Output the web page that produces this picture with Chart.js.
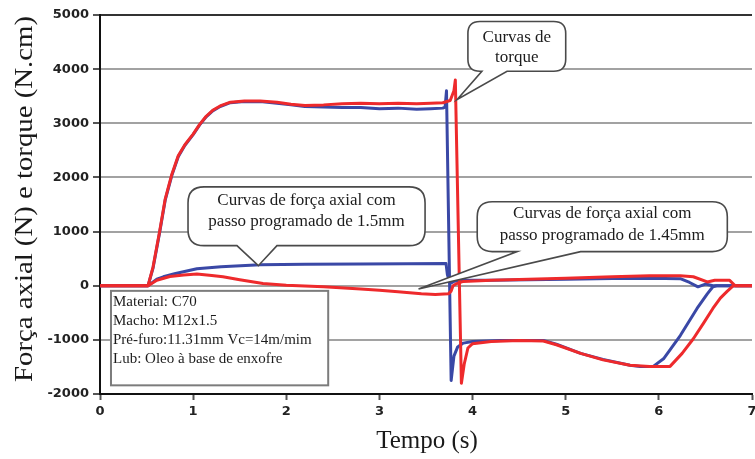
<!DOCTYPE html>
<html>
<head>
<meta charset="utf-8">
<script src="https://cdn.jsdelivr.net/npm/chart.js@4.4.0/dist/chart.umd.min.js"></script>
<style>
  html, body { margin: 0; padding: 0; background: #fff; overflow: hidden; }
  #wrap { width: 755px; height: 459px; position: relative; overflow: hidden; }
</style>
</head>
<body>
<div id="wrap"><canvas id="c" width="768" height="459"></canvas></div>
<script>
// Axis ticks
const timeTicks = [0, 1, 2, 3, 4, 5, 6, 7];
const valueTicks = [-2000, -1000, 0, 1000, 2000, 3000, 4000, 5000];

// Torque, tap with 1.45 mm programmed pitch (red)
const torqueRedT = [0, 0.516, 0.57, 0.64, 0.70, 0.77, 0.84, 0.91, 1.0, 1.07, 1.14, 1.21, 1.29, 1.4, 1.55, 1.72, 1.9, 2.05, 2.2, 2.4, 2.6, 2.8, 3.0, 3.2, 3.4, 3.55, 3.68, 3.76, 3.80, 3.815, 3.88, 3.91, 3.95, 4.0, 4.2, 4.5, 4.76, 4.9, 5.16, 5.4, 5.69, 5.9, 6.12, 6.25, 6.37, 6.48, 6.58, 6.66, 6.73, 6.8, 7.0];
const torqueRedV = [0, 0, 350, 1000, 1600, 2050, 2400, 2600, 2800, 2980, 3130, 3240, 3320, 3390, 3410, 3410, 3390, 3350, 3330, 3340, 3360, 3370, 3360, 3370, 3360, 3370, 3380, 3420, 3600, 3800, -1800, -1450, -1150, -1070, -1030, -1010, -1020, -1090, -1250, -1370, -1470, -1490, -1490, -1250, -980, -690, -420, -230, -110, 0, 0];

// Axial force, 1.45 mm programmed pitch (red)
const axialRedT = [0, 0.516, 0.61, 0.75, 0.9, 1.04, 1.2, 1.32, 1.5, 1.75, 2.0, 2.4, 2.8, 3.0, 3.2, 3.45, 3.6, 3.74, 3.77, 3.79, 3.83, 3.9, 4.2, 4.6, 5.0, 5.5, 5.9, 6.23, 6.37, 6.52, 6.6, 6.76, 6.82, 7.0];
const axialRedV = [0, 0, 100, 170, 200, 215, 190, 165, 110, 40, 10, -20, -60, -85, -110, -150, -160, -150, -100, 0, 40, 80, 100, 120, 140, 165, 185, 185, 165, 70, 100, 100, 0, 0];

// Torque, 1.5 mm programmed pitch (blue)
const torqueBlueT = [0, 0.516, 0.57, 0.64, 0.70, 0.77, 0.84, 0.91, 1.0, 1.07, 1.14, 1.21, 1.29, 1.4, 1.55, 1.72, 1.9, 2.05, 2.2, 2.4, 2.6, 2.8, 3.0, 3.2, 3.4, 3.55, 3.68, 3.705, 3.72, 3.77, 3.80, 3.84, 3.9, 4.0, 4.3, 4.76, 4.9, 5.16, 5.4, 5.69, 5.8, 5.94, 6.05, 6.23, 6.41, 6.52, 6.58, 6.62, 7.0];
const torqueBlueV = [0, 0, 330, 980, 1580, 2030, 2380, 2590, 2790, 2970, 3120, 3230, 3310, 3380, 3400, 3400, 3370, 3340, 3310, 3300, 3290, 3290, 3270, 3280, 3260, 3270, 3280, 3300, 3600, -1750, -1300, -1130, -1060, -1030, -1010, -1010, -1080, -1250, -1360, -1470, -1490, -1490, -1350, -920, -420, -150, -20, 0, 0];

// Axial force, 1.5 mm programmed pitch (blue)
const axialBlueT = [0, 0.516, 0.61, 0.68, 0.8, 1.04, 1.3, 1.72, 2.2, 2.8, 3.3, 3.715, 3.73, 3.76, 3.80, 3.9, 4.2, 4.6, 5.0, 5.5, 5.9, 6.23, 6.33, 6.42, 6.5, 6.58, 7.0];
const axialBlueV = [0, 0, 120, 165, 220, 313, 350, 385, 395, 400, 405, 410, 200, 40, 80, 100, 100, 110, 120, 135, 140, 130, 60, -20, 30, 0, 0];

const RED = '#ee2a2c';
const BLUE = '#3a48a6';

function pts(ts, vs) { return ts.map((t, i) => ({ x: t, y: vs[i] })); }

function series(label, ts, vs, color) {
  return {
    label, data: pts(ts, vs), borderColor: color, backgroundColor: color,
    borderWidth: 3, pointRadius: 0, tension: 0, fill: false,
    borderJoinStyle: 'round', borderCapStyle: 'round'
  };
}

// Callout bubbles: box edges and pointer in data units (time, value)
const callouts = [
  { box: [3.95, 5.0, 4880, 3960], base: [4.10, 4.37], tip: [3.835, 3440], r: 12,
    lines: ['Curvas de', 'torque'], first: 16, step: 20 },
  { box: [0.945, 3.49, 1825, 740], base: [1.47, 1.90], tip: [1.70, 370], r: 16,
    lines: ['Curvas de força axial com', 'passo programado de 1.5mm'], first: 14, step: 21 },
  { box: [4.05, 6.735, 1550, 630], base: [4.48, 5.16], tip: [3.42, -60], r: 15,
    lines: ['Curvas de força axial com', 'passo programado de 1.45mm'], first: 12, step: 22 }
];

const infoBox = { box: [0.118, 2.45, -95, -1840],
  lines: ['Material: C70', 'Macho: M12x1.5', 'Pré-furo:11.31mm Vc=14m/mim', 'Lub: Oleo à base de enxofre'] };

const annotations = {
  id: 'annotations',
  afterDatasetsDraw(chart) {
    const ctx = chart.ctx, xs = chart.scales.x, ys = chart.scales.y;
    const px = t => xs.getPixelForValue(t), py = v => ys.getPixelForValue(v);
    ctx.save();
    callouts.forEach(c => {
      const l = px(c.box[0]), r = px(c.box[1]), t = py(c.box[2]), b = py(c.box[3]);
      const rad = c.r;
      const b0 = px(c.base[0]), b1 = px(c.base[1]);
      const tx = px(c.tip[0]), ty = py(c.tip[1]);
      ctx.beginPath();
      ctx.moveTo(l + rad, t);
      ctx.lineTo(r - rad, t);
      ctx.quadraticCurveTo(r, t, r, t + rad);
      ctx.lineTo(r, b - rad);
      ctx.quadraticCurveTo(r, b, r - rad, b);
      ctx.lineTo(b1, b);
      ctx.lineTo(tx, ty);
      ctx.lineTo(b0, b);
      ctx.lineTo(l + rad, b);
      ctx.quadraticCurveTo(l, b, l, b - rad);
      ctx.lineTo(l, t + rad);
      ctx.quadraticCurveTo(l, t, l + rad, t);
      ctx.closePath();
      ctx.fillStyle = '#fff';
      ctx.fill();
      ctx.lineWidth = 1.6;
      ctx.strokeStyle = '#4a4a4a';
      ctx.stroke();
      ctx.fillStyle = '#1c1c1c';
      ctx.font = '17px "Liberation Serif"';
      ctx.textAlign = 'center';
      ctx.textBaseline = 'middle';
      c.lines.forEach((s, i) => ctx.fillText(s, (l + r) / 2, t + c.first + i * c.step));
    });

    // Test conditions box
    const l = px(infoBox.box[0]), r = px(infoBox.box[1]), t = py(infoBox.box[2]), b = py(infoBox.box[3]);
    ctx.fillStyle = '#fff';
    ctx.fillRect(l, t, r - l, b - t);
    ctx.lineWidth = 2;
    ctx.strokeStyle = '#7c7c7c';
    ctx.strokeRect(l, t, r - l, b - t);
    ctx.fillStyle = '#1c1c1c';
    ctx.font = '15px "Liberation Serif"';
    ctx.textAlign = 'left';
    ctx.textBaseline = 'middle';
    infoBox.lines.forEach((s, i) => ctx.fillText(s, l + 2, t + 11 + i * 19));
    ctx.restore();
  },
  afterDraw(chart) {
    const ctx = chart.ctx;
    ctx.save();
    ctx.fillStyle = '#1a1a1a';
    ctx.textAlign = 'center';
    ctx.textBaseline = 'middle';
    // Vertical axis title
    ctx.font = '25px "Liberation Serif"';
    const yt = 'Força axial (N) e torque (N.cm)';
    const w = ctx.measureText(yt).width;
    ctx.translate(25, 199);
    ctx.rotate(-Math.PI / 2);
    ctx.scale(366 / w, 1);
    ctx.fillText(yt, 0, 0);
    ctx.restore();
    ctx.save();
    ctx.fillStyle = '#1a1a1a';
    ctx.textAlign = 'center';
    ctx.textBaseline = 'middle';
    ctx.font = '25px "Liberation Serif"';
    ctx.fillText('Tempo (s)', 427, 441);
    ctx.restore();
  }
};

new Chart(document.getElementById('c'), {
  type: 'line',
  data: {
    datasets: [
      series('Torque 1.45mm', torqueRedT, torqueRedV, RED),
      series('Força axial 1.45mm', axialRedT, axialRedV, RED),
      series('Torque 1.5mm', torqueBlueT, torqueBlueV, BLUE),
      series('Força axial 1.5mm', axialBlueT, axialBlueV, BLUE)
    ]
  },
  options: {
    responsive: false,
    animation: false,
    layout: { padding: { top: 15, right: 16, left: 0, bottom: 0 } },
    plugins: { legend: { display: false }, tooltip: { enabled: false } },
    scales: {
      x: {
        type: 'linear', min: 0, max: 7,
        afterBuildTicks: s => { s.ticks = timeTicks.map(v => ({ value: v })); },
        afterFit: s => { s.height = 65; },
        ticks: { font: { family: 'DejaVu Sans', size: 13, weight: 'bold' }, color: '#222', padding: 4, maxRotation: 0,
                 callback: v => String(v) },
        grid: { drawOnChartArea: false, drawTicks: true, tickLength: 6, tickColor: '#555', tickWidth: 2 },
        border: { color: '#111', width: 2 }
      },
      y: {
        type: 'linear', min: -2000, max: 5000,
        afterBuildTicks: s => { s.ticks = valueTicks.map(v => ({ value: v })); },
        afterFit: s => { s.width = 100; },
        ticks: { font: { family: 'DejaVu Sans', size: 13, weight: 'bold' }, color: '#222', padding: 4,
                 callback: v => String(v) },
        grid: {
          color: c => (c.tick && c.tick.value === 5000) ? '#333' : '#a2a2a2',
          lineWidth: 2, tickLength: 7, tickColor: '#555', tickWidth: 2
        },
        border: { color: '#111', width: 2 }
      }
    }
  },
  plugins: [annotations]
});
</script>
</body>
</html>
